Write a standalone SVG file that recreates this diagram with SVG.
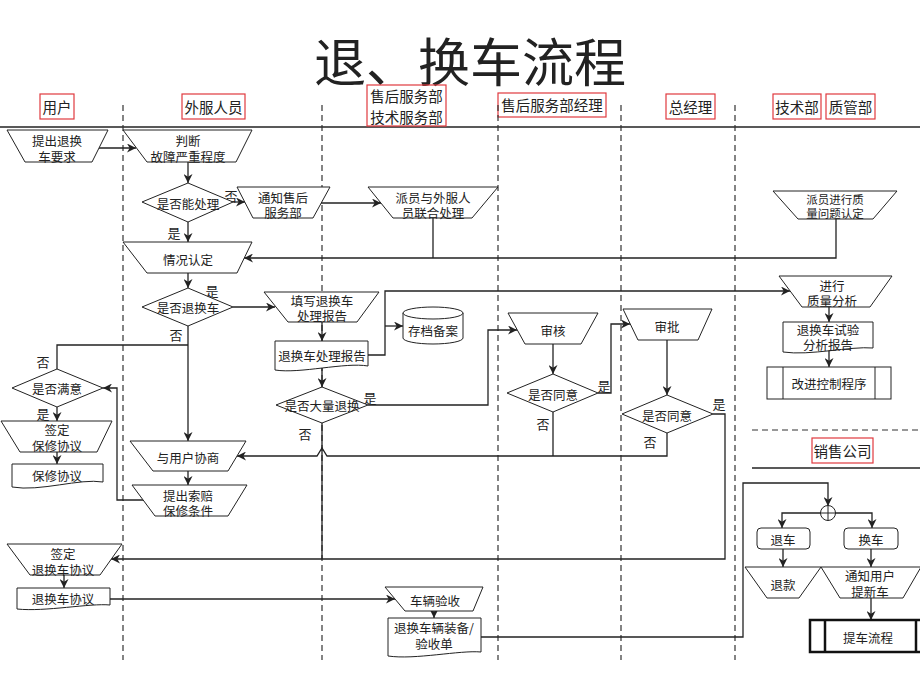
<svg xmlns="http://www.w3.org/2000/svg" width="920" height="690" viewBox="0 0 920 690">
<style>
.s{fill:#fff;stroke:#222;stroke-width:1}
.c{fill:none;stroke:#222;stroke-width:1.3}
.lane{stroke:#333;stroke-width:1.2;stroke-dasharray:6 4;fill:none}
.hb{fill:none;stroke:#e0393e;stroke-width:1.2}
text{font-family:"Noto Sans CJK SC","Liberation Sans",sans-serif;text-anchor:middle;dominant-baseline:central;fill:#222;font-size:12.5px}
.h{font-size:14.5px}
.l{font-size:13px}
.sm{font-size:11.5px}
</style>
<defs>
<marker id="a" markerUnits="userSpaceOnUse" markerWidth="9" markerHeight="9" viewBox="0 0 10 10" refX="10" refY="5" orient="auto">
<path d="M0,0 L10,5 L0,10 L3,5 z" fill="#222"/>
</marker>
</defs>
<rect width="920" height="690" fill="#fff"/>
<text x="470" y="59" style="font-size:52px">退、换车流程</text>
<g id="header">
<line x1="0" y1="127" x2="920" y2="127" stroke="#222" stroke-width="1.3"/>
<rect class="hb" x="40" y="94" width="34" height="25"/><text class="h" x="57" y="106">用户</text>
<rect class="hb" x="182" y="94" width="63" height="25"/><text class="h" x="213.5" y="106">外服人员</text>
<rect class="hb" x="367" y="85" width="79" height="41"/><text class="h"><tspan x="406.5" y="95">售后服务部</tspan><tspan x="406.5" y="115.5">技术服务部</tspan></text>
<rect class="hb" x="498" y="93" width="108" height="24"/><text class="h" x="552" y="104.5">售后服务部经理</text>
<rect class="hb" x="666" y="94" width="49" height="25"/><text class="h" x="690.5" y="106">总经理</text>
<rect class="hb" x="773" y="94" width="48" height="25"/><text class="h" x="797" y="106">技术部</text>
<rect class="hb" x="826" y="94" width="49" height="25"/><text class="h" x="850.5" y="106">质管部</text>
<rect class="hb" x="812" y="438" width="61" height="25"/><text class="h" x="842.5" y="450">销售公司</text>
</g>
<g id="lanes">
<line class="lane" x1="123" y1="105" x2="123" y2="660"/>
<line class="lane" x1="322" y1="105" x2="322" y2="660"/>
<line class="lane" x1="498" y1="105" x2="498" y2="660"/>
<line class="lane" x1="621" y1="105" x2="621" y2="660"/>
<line class="lane" x1="735" y1="105" x2="735" y2="660"/>
<line class="lane" x1="752" y1="430" x2="920" y2="430"/>
<line x1="752" y1="468" x2="920" y2="468" stroke="#222" stroke-width="1.3"/>
</g>
<g id="connectors">
<path class="c" d="M99,148 H136" marker-end="url(#a)"/>
<path class="c" d="M188,162 V183" marker-end="url(#a)"/>
<path class="c" d="M233,202 H245" marker-end="url(#a)"/>
<path class="c" d="M188,222 V242" marker-end="url(#a)"/>
<path class="c" d="M321,203 H381" marker-end="url(#a)"/>
<path class="c" d="M433,218 V258"/>
<path class="c" d="M836,218 V258 H244" marker-end="url(#a)"/>
<path class="c" d="M188,273 V288" marker-end="url(#a)"/>
<path class="c" d="M233,307 H275" marker-end="url(#a)"/>
<path class="c" d="M188,326 V441" marker-end="url(#a)"/>
<path class="c" d="M188,345 H57 V369"/>
<path class="c" d="M143,500 H117 V388 H103" marker-end="url(#a)"/>
<path class="c" d="M57,407 V421" marker-end="url(#a)"/>
<path class="c" d="M57,452 V464" marker-end="url(#a)"/>
<path class="c" d="M188,471 V485" marker-end="url(#a)"/>
<path class="c" d="M322,322 V341" marker-end="url(#a)"/>
<path class="c" d="M322,367 V387" marker-end="url(#a)"/>
<path class="c" d="M368,355 H385 V291 H790" marker-end="url(#a)"/>
<path class="c" d="M385,326 H403" marker-end="url(#a)"/>
<path class="c" d="M368,405 H488 V330 H517" marker-end="url(#a)"/>
<path class="c" d="M553,344 V374" marker-end="url(#a)"/>
<path class="c" d="M598,393 H611 V324 H630" marker-end="url(#a)"/>
<path class="c" d="M667,340 V395" marker-end="url(#a)"/>
<path class="c" d="M553,412 V456"/>
<path class="c" d="M667,433 V456 H327 L322,448 L317,456 H237" marker-end="url(#a)"/>
<path class="c" d="M713,414 H725 V559 H111" marker-end="url(#a)"/>
<path class="c" d="M322,423 V559"/>
<path class="c" d="M64,575 V588" marker-end="url(#a)"/>
<path class="c" d="M110,599 H395" marker-end="url(#a)"/>
<path class="c" d="M434,611 V618" marker-end="url(#a)"/>
<path class="c" d="M481,637 H743 V483 H828 V506" marker-end="url(#a)"/>
<path class="c" d="M821,513 H782 V528" marker-end="url(#a)"/>
<path class="c" d="M835,513 H872 V528" marker-end="url(#a)"/>
<path class="c" d="M783,549 V567" marker-end="url(#a)"/>
<path class="c" d="M871,549 V567" marker-end="url(#a)"/>
<path class="c" d="M871,598 V620" marker-end="url(#a)"/>
<path class="c" d="M829,307 V322" marker-end="url(#a)"/>
<path class="c" d="M829,351 V367" marker-end="url(#a)"/>
</g>
<g id="labels">
<text class="l" x="231" y="195">否</text>
<text class="l" x="174" y="232">是</text>
<text class="l" x="212" y="290">是</text>
<text class="l" x="176" y="334">否</text>
<text class="l" x="43" y="361">否</text>
<text class="l" x="43" y="413">是</text>
<text class="l" x="370" y="397">是</text>
<text class="l" x="305" y="433">否</text>
<text class="l" x="604" y="385">是</text>
<text class="l" x="543" y="423">否</text>
<text class="l" x="719" y="403">是</text>
<text class="l" x="650" y="441">否</text>
</g>
<g id="n1"><polygon class="s" points="7,130 108,130 92,162 25,162"/><text><tspan x="57" y="140">提出退换</tspan><tspan x="57" y="156">车要求</tspan></text></g>
<g id="n2"><polygon class="s" points="123,130 252,130 236,162 147,162"/><text><tspan x="188" y="140">判断</tspan><tspan x="188" y="156">故障严重程度</tspan></text></g>
<g id="n3"><polygon class="s" points="188,183 233,202 188,222 142,202"/><text x="188" y="203">是否能处理</text></g>
<g id="n4"><polygon class="s" points="237,187 330,187 313,218 253,218"/><text><tspan x="283" y="197">通知售后</tspan><tspan x="283" y="212">服务部</tspan></text></g>
<g id="n5"><polygon class="s" points="368,187 498,187 472,218 393,218"/><text><tspan x="433" y="197">派员与外服人</tspan><tspan x="433" y="212">员联合处理</tspan></text></g>
<g id="n6"><polygon class="s" points="123,242 252,242 237,273 147,273"/><text x="188" y="259">情况认定</text></g>
<g id="n7"><polygon class="s" points="188,288 233,307 188,326 142,307"/><text x="188" y="307">是否退换车</text></g>
<g id="n8"><polygon class="s" points="57,369 103,388 57,407 12,388"/><text x="57" y="388">是否满意</text></g>
<g id="n9"><polygon class="s" points="1,421 112,421 97,452 20,452"/><text><tspan x="57" y="429">签定</tspan><tspan x="57" y="445">保修协议</tspan></text></g>
<g id="n10"><path class="s" d="M12,464 H103 V482 C80,478 40,492 12,487 Z"/><text x="57" y="475">保修协议</text></g>
<g id="n11"><polygon class="s" points="130,441 246,441 228,471 153,471"/><text x="188" y="457">与用户协商</text></g>
<g id="n12"><polygon class="s" points="132,485 247,485 228,516 155,516"/><text><tspan x="188" y="495">提出索赔</tspan><tspan x="188" y="510">保修条件</tspan></text></g>
<g id="n13"><polygon class="s" points="264,292 379,292 357,322 288,322"/><text><tspan x="322" y="300">填写退换车</tspan><tspan x="322" y="315">处理报告</tspan></text></g>
<g id="n14"><path class="s" d="M275,341 H368 V366 C345,362 300,374 275,370 Z"/><text x="322" y="355">退换车处理报告</text></g>
<g id="n15"><path class="s" d="M403,313 A30,6 0 0 1 463,313 V338 A30,6 0 0 1 403,338 Z"/><path class="s" d="M403,313 A30,6 0 0 0 463,313" fill="none"/><text x="433" y="330">存档备案</text></g>
<g id="n16"><polygon class="s" points="322,387 368,405 322,423 276,405"/><text x="322" y="405">是否大量退换</text></g>
<g id="n17"><polygon class="s" points="7,544 122,544 100,575 30,575"/><text><tspan x="63" y="553">签定</tspan><tspan x="63" y="569">退换车协议</tspan></text></g>
<g id="n18"><path class="s" d="M17,588 H110 V605 C90,603 45,612 17,609 Z"/><text x="63" y="598">退换车协议</text></g>
<g id="n19"><polygon class="s" points="385,587 483,587 473,611 405,611"/><text x="435" y="600">车辆验收</text></g>
<g id="n20"><path class="s" d="M388,618 H481 V652 C460,650 415,660 388,656 Z"/><text><tspan x="434" y="627">退换车辆装备/</tspan><tspan x="434" y="643">验收单</tspan></text></g>
<g id="n21"><polygon class="s" points="508,313 598,313 581,344 525,344"/><text x="553" y="330">审核</text></g>
<g id="n22"><polygon class="s" points="553,374 598,393 553,412 507,393"/><text x="553" y="394">是否同意</text></g>
<g id="n23"><polygon class="s" points="623,309 712,309 698,340 638,340"/><text x="667" y="326">审批</text></g>
<g id="n24"><polygon class="s" points="667,395 713,414 667,433 622,414"/><text x="667" y="415">是否同意</text></g>
<g id="n25"><polygon class="s" points="773,191 897,191 873,219 798,219"/><text class="sm"><tspan x="835" y="199">派员进行质</tspan><tspan x="835" y="213">量问题认定</tspan></text></g>
<g id="n26"><polygon class="s" points="779,276 892,276 870,307 802,307"/><text><tspan x="832" y="285">进行</tspan><tspan x="832" y="300">质量分析</tspan></text></g>
<g id="n27"><path class="s" d="M783,322 H873 V348 C850,346 810,356 783,352 Z"/><text><tspan x="828" y="329">退换车试验</tspan><tspan x="828" y="344">分析报告</tspan></text></g>
<g id="n28"><rect class="s" x="767" y="367" width="124" height="32"/><line x1="783" y1="367" x2="783" y2="399" stroke="#222"/><line x1="875" y1="367" x2="875" y2="399" stroke="#222"/><text x="829" y="383">改进控制程序</text></g>
<g id="n29"><circle class="s" cx="828" cy="513" r="7.5"/><path d="M820.5,513 H835.5 M828,505.5 V520.5" stroke="#222" stroke-width="1"/></g>
<g id="n30"><rect class="s" x="757" y="528" width="53" height="21" rx="4"/><text x="783" y="539">退车</text></g>
<g id="n31"><rect class="s" x="844" y="528" width="54" height="21" rx="4"/><text x="871" y="539">换车</text></g>
<g id="n32"><polygon class="s" points="745,567 821,567 799,598 767,598"/><text x="783" y="584">退款</text></g>
<g id="n33"><polygon class="s" points="821,567 921,567 903,598 840,598"/><text><tspan x="870" y="575">通知用户</tspan><tspan x="870" y="591">提新车</tspan></text></g>
<g id="n34"><rect x="810" y="620" width="114" height="32" fill="#fff" stroke="#111" stroke-width="2.5"/><line x1="825" y1="620" x2="825" y2="652" stroke="#111" stroke-width="2.5"/><line x1="916" y1="620" x2="916" y2="652" stroke="#111" stroke-width="2.5"/><text x="868" y="637">提车流程</text></g>
</svg>
